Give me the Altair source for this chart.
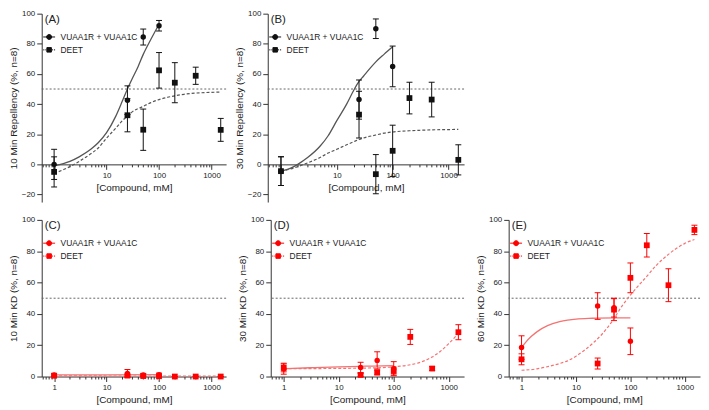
import altair as alt
import pandas as pd

# ---------------- data ----------------
series = ["VUAA1R + VUAA1C", "DEET"]
conc_vuaa = [1, 25, 50, 100]
conc_deet = [1, 25, 50, 100, 200, 500, 1500]

x_major = [1, 10, 100, 1000]
x_minor = [0.6, 0.7, 0.8, 0.9, 2, 3, 4, 5, 6, 7, 8, 9, 20, 30, 40, 50, 60, 70, 80, 90,
           200, 300, 400, 500, 600, 700, 800, 900]
y_ticks_top = [-20, 0, 20, 40, 60, 80, 100]
y_ticks_bottom = [0, 20, 40, 60, 80, 100]
threshold = [50]
x_domain = [0.58, 1900]
y_domain_top = [-25, 100]
y_domain_bottom = [0, 100]

panel_labels = ["(A)", "(B)", "(C)", "(D)", "(E)"]
y_titles = ["10 Min Repellency (%, n=8)", "30 Min Repellency (%, n=8)",
            "10 Min KD (%, n=8)", "30 Min KD (%, n=8)", "60 Min KD (%, n=8)"]
x_title = "[Compound, mM]"

# Panel A
a_vuaa_mean = [0, 42.6, 84.5, 92]
a_vuaa_err = [10, 9.5, 5.3, 3.5]
a_deet_mean = [-5, 32.6, 23, 62.4, 54.2, 58.8, 22.9]
a_deet_err = [10, 11, 13.7, 11.8, 13.3, 5.7, 7.6]
a_cx_vuaa = [1, 1.5, 2, 3, 5, 7, 10, 15, 20, 25, 30, 40, 50, 70, 100]
a_cy_vuaa = [-1, 0.5, 2, 5, 10, 14.5, 21, 32, 42, 50, 56, 65, 73, 83, 93]
a_cx_deet = [1, 1.5, 2, 3, 5, 7, 10, 15, 20, 25, 30, 50, 70, 100, 200, 300, 500, 1000, 1500]
a_cy_deet = [-6, -3.5, -1.5, 2, 7, 11, 17.5, 24, 29, 32, 34.5, 38.5, 41, 43, 45.5, 46.5, 47.3, 47.8, 48]

# Panel B
b_vuaa_mean = [-4.5, 43, 90, 65]
b_vuaa_err = [9.5, 13, 6.5, 13.5]
b_deet_mean = [-4.5, 33, -6.5, 9, 44, 43, 3]
b_deet_err = [9.5, 15.5, 13, 17, 10.5, 11.5, 10]
b_cx_vuaa = [1, 1.5, 2, 3, 5, 7, 10, 15, 20, 25, 30, 40, 50, 70, 100]
b_cy_vuaa = [-4.5, -2.5, 0, 4.5, 12, 19, 29, 40, 49, 55, 58.5, 64, 68, 73, 78]
b_cx_deet = [1, 1.5, 2, 3, 5, 7, 10, 15, 20, 25, 30, 50, 70, 100, 200, 300, 500, 1000, 1500]
b_cy_deet = [-4.5, -3, -1.5, 1, 4.5, 7.5, 10, 13, 15, 16.5, 17.5, 19.5, 20.7, 21.5, 22.3, 22.6, 22.9, 23.1, 23.2]

# Panel C
c_vuaa_mean = [1, 2, 1, 1.2]
c_vuaa_err = [1, 2.5, 1, 1]
c_deet_mean = [0.5, 0.6, 0.3, 0.2, 0, 0, 0]
c_deet_err = [0.5, 0.5, 0.5, 0.5, 0, 0, 0]
c_cx_vuaa = [1, 10, 100]
c_cy_vuaa = [1, 1.1, 1.2]
c_cx_deet = [1, 100, 1500]
c_cy_deet = [0.4, 0.3, 0.2]

# Panel D
d_vuaa_mean = [5, 5.8, 10.3, 5]
d_vuaa_err = [3.5, 3.3, 5.5, 4.5]
d_deet_mean = [5.5, 1, 2.6, 3.5, 25.3, 5.1, 28.3]
d_deet_err = [2.5, 1, 1.5, 2.5, 4.8, 1.2, 4.8]
d_cx_vuaa = [1, 3, 10, 30, 100]
d_cy_vuaa = [5, 5.6, 6.2, 6.6, 7]
d_cx_deet = [1, 10, 50, 100, 200, 300, 500, 700, 1000, 1500]
d_cy_deet = [5, 5.2, 5.6, 6.2, 7.5, 9, 12.5, 16, 21, 27.5]

# Panel E
e_vuaa_mean = [18.5, 45, 44, 22.5]
e_vuaa_err = [7.5, 8.5, 6, 8.5]
e_deet_mean = [11, 8.3, 42.7, 63, 83.8, 58.3, 93.6]
e_deet_err = [3.5, 3.5, 7, 9.5, 7.5, 10.5, 3]
e_cx_vuaa = [1, 1.2, 1.5, 2, 3, 5, 7, 10, 20, 50, 100]
e_cy_vuaa = [18.5, 22, 25.5, 29, 32.5, 35, 36, 36.7, 37.2, 37.5, 37.5]
e_cx_deet = [1, 2, 3, 5, 7, 10, 20, 30, 50, 70, 100, 200, 300, 500, 1000, 1500]
e_cy_deet = [4, 5, 6.3, 8.3, 10, 13, 21, 27, 37, 45, 52, 64, 71, 78, 85, 87.5]

# ---------------- style ----------------
FONT = "Liberation Sans"
BLACK_PT, BLACK_CURVE = "#111111", "#555555"
RED_PT, RED_CURVE = "#ff0000", "#f37373"
PATH_CIRCLE = "M-1,0L1,0M-0.42,0A0.42,0.42,0,1,1,0.42,0A0.42,0.42,0,1,1,-0.42,0Z"
PATH_SQUARE = ("M-1,0L-0.8,0M-0.65,0L-0.45,0M0.45,0L0.65,0M0.8,0L1,0"
               "M-0.38,-0.38L0.38,-0.38L0.38,0.38L-0.38,0.38Z")


def make_panel(idx, top, pt_color, curve_color, vm, ve, dm, de, cxv, cyv, cxd, cyd, width, height):
    ydom = y_domain_top if top else y_domain_bottom
    yvals = y_ticks_top if top else y_ticks_bottom
    xscale = alt.Scale(type="log", domain=x_domain, nice=False)
    yscale = alt.Scale(domain=ydom, nice=False, zero=False)
    shown = x_major[1:] if top else x_major
    shown_expr = " || ".join(f"datum.value == {v}" for v in shown)
    major_expr = " || ".join(f"datum.value == {v}" for v in x_major)
    offset = -height * (0 - ydom[0]) / (ydom[1] - ydom[0]) if top else 0

    xaxis = alt.Axis(values=sorted(x_major + x_minor), format="d",
                     labelExpr=f"({shown_expr}) ? datum.label : ''",
                     tickSize={"condition": {"test": major_expr, "value": 5}, "value": 2.5},
                     title=x_title, offset=offset, labelOverlap=False, labelFlush=False,
                     grid=False, labelPadding=2, titlePadding=3)
    yaxis = alt.Axis(values=yvals, title=y_titles[idx], grid=False, titlePadding=3,
                     labelPadding=2, tickSize=5)

    pts_v = pd.DataFrame({"x": conc_vuaa, "y": vm,
                          "lo": [m - e for m, e in zip(vm, ve)], "hi": [m + e for m, e in zip(vm, ve)]})
    pts_d = pd.DataFrame({"x": conc_deet, "y": dm,
                          "lo": [m - e for m, e in zip(dm, de)], "hi": [m + e for m, e in zip(dm, de)]})
    pts = pd.concat([pts_v, pts_d])
    caps = pd.concat([pts[["x", "lo"]].rename(columns={"lo": "c"}),
                      pts[["x", "hi"]].rename(columns={"hi": "c"})])
    cv = pd.DataFrame({"x": cxv, "y": cyv})
    cd = pd.DataFrame({"x": cxd, "y": cyd})

    def X():
        return alt.X("x:Q", scale=xscale, axis=xaxis)

    def Y(field="y"):
        return alt.Y(f"{field}:Q", scale=yscale, axis=yaxis)

    rule = alt.Chart(pd.DataFrame({"t": threshold})).mark_rule(
        color="#666666", strokeDash=[2, 2], strokeWidth=1).encode(y=Y("t"))
    line_v = alt.Chart(cv).mark_line(color=curve_color, strokeWidth=1.3, interpolate="monotone").encode(
        x=X(), y=Y())
    line_d = alt.Chart(cd).mark_line(color=curve_color, strokeWidth=1.2, strokeDash=[3, 2],
                                     interpolate="monotone").encode(x=X(), y=Y())
    bars = alt.Chart(pts).mark_rule(color=pt_color, strokeWidth=1).encode(
        x=X(), y=Y("lo"), y2="hi:Q")
    capm = alt.Chart(caps).mark_tick(color=pt_color, orient="horizontal", size=6, thickness=1,
                                     opacity=1).encode(x=X(), y=Y("c"))
    dots = alt.Chart(pts_v).mark_point(shape="circle", filled=True, size=30, color=pt_color,
                                       opacity=1).encode(x=X(), y=Y())
    sqs = alt.Chart(pts_d).mark_point(shape="square", filled=True, size=34, color=pt_color,
                                      opacity=1).encode(x=X(), y=Y())
    legend = alt.Chart(pd.DataFrame({"series": series})).transform_filter("false").mark_point(
        filled=True, color=pt_color, fill=pt_color, stroke=pt_color, strokeWidth=1, opacity=1).encode(
        shape=alt.Shape("series:N", scale=alt.Scale(domain=series, range=[PATH_CIRCLE, PATH_SQUARE]),
                        legend=alt.Legend(orient="none", legendX=1, legendY=17, title=None,
                                          symbolSize=144, symbolStrokeWidth=1,
                                          labelFontSize=8.5, labelFont=FONT, labelColor="#222222",
                                          labelOffset=5, rowPadding=1, padding=0)))
    label = alt.Chart(pd.DataFrame({"label": [panel_labels[idx]]})).mark_text(
        align="left", baseline="middle", fontSize=11.5, font=FONT, color="#222222").encode(
        x=alt.value(3), y=alt.value(6), text="label:N")

    return alt.layer(rule, line_v, line_d, bars, capm, dots, sqs, legend, label).properties(
        width=width, height=height).resolve_scale(shape="independent")


H1, H2 = 190, 158
A = make_panel(0, True, BLACK_PT, BLACK_CURVE, a_vuaa_mean, a_vuaa_err, a_deet_mean, a_deet_err,
               a_cx_vuaa, a_cy_vuaa, a_cx_deet, a_cy_deet, 186, H1)
B = make_panel(1, True, BLACK_PT, BLACK_CURVE, b_vuaa_mean, b_vuaa_err, b_deet_mean, b_deet_err,
               b_cx_vuaa, b_cy_vuaa, b_cx_deet, b_cy_deet, 198, H1)
C = make_panel(2, False, RED_PT, RED_CURVE, c_vuaa_mean, c_vuaa_err, c_deet_mean, c_deet_err,
               c_cx_vuaa, c_cy_vuaa, c_cx_deet, c_cy_deet, 186, H2)
D = make_panel(3, False, RED_PT, RED_CURVE, d_vuaa_mean, d_vuaa_err, d_deet_mean, d_deet_err,
               d_cx_vuaa, d_cy_vuaa, d_cx_deet, d_cy_deet, 195, H2)
E = make_panel(4, False, RED_PT, RED_CURVE, e_vuaa_mean, e_vuaa_err, e_deet_mean, e_deet_err,
               e_cx_vuaa, e_cy_vuaa, e_cx_deet, e_cy_deet, 193, H2)

res = dict(shape="independent", x="independent", y="independent")
top_row = alt.hconcat(A, B, spacing=7).resolve_scale(**res)
bottom_row = alt.hconcat(C, D, E, spacing=10).resolve_scale(**res)

chart = alt.vconcat(top_row, bottom_row, spacing=14).resolve_scale(**res).properties(
    padding=0
).configure_view(strokeWidth=0).configure_axis(
    domainColor="#333333", tickColor="#333333", labelColor="#222222", titleColor="#222222",
    labelFont=FONT, titleFont=FONT, labelFontSize=8, titleFontSize=10, titleFontWeight="normal",
    domainWidth=1, tickWidth=1
)

chart.save("out.html", embed_options={"renderer": "svg", "actions": False})
